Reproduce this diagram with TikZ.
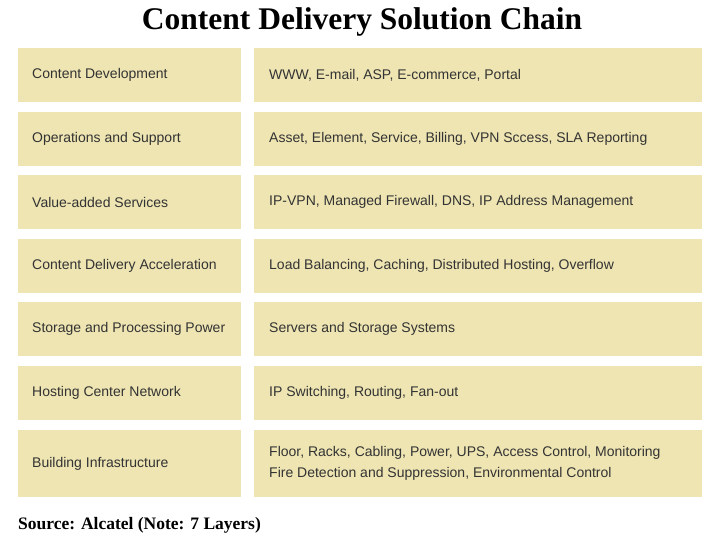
\documentclass[tikz,border=0pt]{standalone}
\usepackage{fontspec}
\setmainfont{Liberation Serif}
\newfontfamily\boxfont{Liberation Sans}
\definecolor{boxfill}{HTML}{EEE5B3}
\definecolor{boxtext}{HTML}{333333}
\begin{document}
\begin{tikzpicture}[x=1pt,y=-1pt,
  cell/.style={fill=boxfill,draw=none,inner sep=0pt},
  lab/.style={anchor=west,font=\boxfont\fontsize{14}{21}\selectfont,text=boxtext,align=left,inner sep=0pt}]
\useasboundingbox[fill=white] (0,0) rectangle (720,540);
\node[font=\bfseries\fontsize{31.5}{34}\selectfont] (title) at (362,22) {Content Delivery Solution Chain};
\foreach \i/\t/\b/\l/\r in {
 1/48/102/Content Development/{WWW, E-mail, ASP, E-commerce, Portal},
 2/112/166/Operations and Support/{Asset, Element, Service, Billing, VPN Sccess, SLA Reporting},
 3/175/229/Value-added Services/{IP-VPN, Managed Firewall, DNS, IP Address Management},
 4/239/293/Content Delivery Acceleration/{Load Balancing, Caching, Distributed Hosting, Overflow},
 5/302/356/Storage and Processing Power/{Servers and Storage Systems},
 6/366/420/Hosting Center Network/{IP Switching, Routing, Fan-out},
 7/430/497/Building Infrastructure/{Floor, Racks, Cabling, Power, UPS, Access Control, Monitoring\\Fire Detection and Suppression, Environmental Control}}{
  \fill[boxfill] (18,\t) rectangle (241,\b);
  \fill[boxfill] (254,\t) rectangle (702,\b);
  \node[lab] (l\i) at (32,{(\t+\b)/2}) {\l};
  \node[lab] (r\i) at (269,{(\t+\b)/2}) {\r};
}
\node[anchor=west,font=\bfseries\fontsize{17.5}{20}\selectfont,inner sep=0pt] (src) at (18,525) {Source: Alcatel (Note: 7 Layers)};
\end{tikzpicture}
\end{document}
